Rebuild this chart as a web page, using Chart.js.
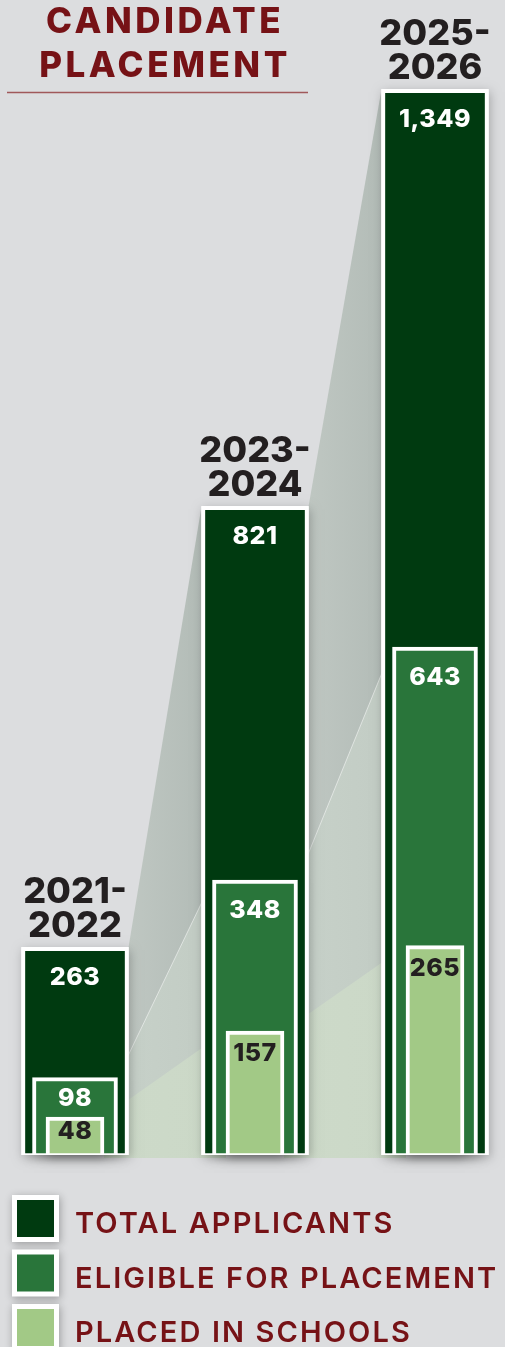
<!DOCTYPE html>
<html>
<head>
<meta charset="utf-8">
<script src="https://cdn.jsdelivr.net/npm/chart.js@4.4.1/dist/chart.umd.min.js"></script>
<style>
  html, body { margin: 0; padding: 0; background: #dcdddf; overflow: hidden; }
  #wrap { position: relative; width: 505px; height: 1347px; }
</style>
</head>
<body>
<div id="wrap"><canvas id="placementChart" width="505" height="1347"></canvas></div>
<script>
  // chart values
  const years = ['2021-2022', '2023-2024', '2025-2026'];
  const totalApplicants = [263, 821, 1349];
  const eligibleForPlacement = [98, 348, 643];
  const placedInSchools = [48, 157, 265];
  const seriesNames = ['TOTAL APPLICANTS', 'ELIGIBLE FOR PLACEMENT', 'PLACED IN SCHOOLS'];
  const seriesColors = ['#003a10', '#29753a', '#a2c986'];
  const labelColors = ['#ffffff', '#ffffff', '#231f20'];
  const titleLines = ['CANDIDATE', 'PLACEMENT'];

  const maroon = '#761216';
  const ink = '#231f20';
  const font = 'Inter, "Open Sans", sans-serif';

  function toPoints(values) {
    return values.map((v, i) => ({ x: i, y: v }));
  }

  // light wedges joining the tops of neighbouring bars
  const wedgePlugin = {
    id: 'wedges',
    beforeDatasetsDraw(chart) {
      const ctx = chart.ctx;
      const fills = [['#bfc7c2', '#b3bcb7'], ['#c7d1c9', '#c2ccc4'], ['#cddac9', '#cbd8c7']];
      ctx.save();
      for (let d = 0; d < 3; d++) {
        const bars = chart.getDatasetMeta(d).data;
        for (let j = 0; j < bars.length - 1; j++) {
          const a = bars[j], b = bars[j + 1];
          const x1 = a.x + a.width / 2, x2 = b.x - b.width / 2;
          const g = ctx.createLinearGradient(x1, 0, x2, 0);
          g.addColorStop(0, fills[d][0]);
          g.addColorStop(1, fills[d][1]);
          ctx.fillStyle = g;
          ctx.beginPath();
          ctx.moveTo(x1, a.y);
          ctx.lineTo(x2, b.y);
          ctx.lineTo(x2, a.base + 3);
          ctx.lineTo(x1, a.base + 3);
          ctx.closePath();
          ctx.fill();
          if (d === 1) {
            ctx.strokeStyle = 'rgba(255,255,255,0.5)';
            ctx.lineWidth = 1;
            ctx.beginPath();
            ctx.moveTo(x1, a.y);
            ctx.lineTo(x2, b.y);
            ctx.stroke();
          }
        }
      }
      // soft shadows under the bars
      for (let d = 0; d < 3; d++) {
        chart.getDatasetMeta(d).data.forEach(bar => {
          ctx.shadowColor = 'rgba(0,0,0,0.26)';
          ctx.shadowBlur = 10;
          ctx.shadowOffsetX = 1;
          ctx.shadowOffsetY = 3;
          ctx.fillStyle = '#ffffff';
          ctx.fillRect(bar.x - bar.width / 2, bar.y, bar.width, bar.base - bar.y);
        });
      }
      ctx.restore();
    }
  };

  const textPlugin = {
    id: 'texts',
    afterDatasetsDraw(chart) {
      const ctx = chart.ctx;
      ctx.save();
      ctx.textAlign = 'center';
      ctx.textBaseline = 'alphabetic';

      // values inside the bars
      const metas = [0, 1, 2].map(d => chart.getDatasetMeta(d));
      ctx.letterSpacing = '0.5px';
      metas.forEach((meta, d) => {
        meta.data.forEach((bar, j) => {
          const below = d < 2 ? metas[d + 1].data[j].y : bar.base;
          const room = below - bar.y;
          const off = d === 2 ? Math.min(30, room * 0.58) : Math.min(38, room * 0.72);
          ctx.font = '800 25px ' + font;
          ctx.fillStyle = labelColors[d];
          ctx.fillText(chart.data.datasets[d].data[j].y.toLocaleString('en-US'), bar.x, bar.y + off);
        });
      });

      // year labels above the tallest bar of each group
      ctx.letterSpacing = '0px';
      ctx.font = '800 36px ' + font;
      ctx.fillStyle = ink;
      metas[0].data.forEach((bar, j) => {
        const parts = years[j].split('-');
        ctx.fillText(parts[0] + '-', bar.x, bar.y - 44);
        ctx.fillText(parts[1], bar.x, bar.y - 10);
      });

      // title
      ctx.letterSpacing = '3.5px';
      ctx.font = '800 35px ' + font;
      ctx.fillStyle = maroon;
      ctx.fillText(titleLines[0], 165, 33);
      ctx.fillText(titleLines[1], 165, 77);
      ctx.strokeStyle = '#a0585a';
      ctx.lineWidth = 1.5;
      ctx.beginPath();
      ctx.moveTo(7, 92.5);
      ctx.lineTo(308, 92.5);
      ctx.stroke();

      // legend
      ctx.textAlign = 'left';
      ctx.letterSpacing = '2.1px';
      chart.data.datasets.forEach((ds, i) => {
        const top = 1195 + i * 54.5;
        ctx.save();
        ctx.shadowColor = 'rgba(0,0,0,0.3)';
        ctx.shadowBlur = 8;
        ctx.shadowOffsetX = 1;
        ctx.shadowOffsetY = 2;
        ctx.fillStyle = '#ffffff';
        ctx.fillRect(12, top, 47, 47);
        ctx.restore();
        ctx.fillStyle = ds.backgroundColor;
        ctx.fillRect(17, top + 5, 37, 37);
        ctx.font = '600 29px ' + font;
        ctx.fillStyle = maroon;
        ctx.fillText(ds.label, 75, top + 38);
      });
      ctx.restore();
    }
  };

  const datasets = [totalApplicants, eligibleForPlacement, placedInSchools].map((values, i) => ({
    label: seriesNames[i],
    data: toPoints(values),
    backgroundColor: seriesColors[i],
    borderColor: '#ffffff',
    borderWidth: { top: 4, left: 4, right: 4, bottom: 2 },
    borderSkipped: false,
    barThickness: [107, 85, 58][i],
    grouped: false,
    order: 3 - i
  }));

  new Chart(document.getElementById('placementChart'), {
    type: 'bar',
    data: { labels: years, datasets: datasets },
    options: {
      responsive: false,
      animation: false,
      layout: { padding: { top: 49, bottom: 192, left: 0, right: 0 } },
      scales: {
        x: { type: 'linear', display: false, offset: false, min: -75 / 180, max: 2 + 70 / 180 },
        y: { display: false, min: 0, max: 1400 }
      },
      plugins: {
        legend: { display: false },
        tooltip: { enabled: false }
      }
    },
    plugins: [wedgePlugin, textPlugin]
  });
</script>
</body>
</html>
